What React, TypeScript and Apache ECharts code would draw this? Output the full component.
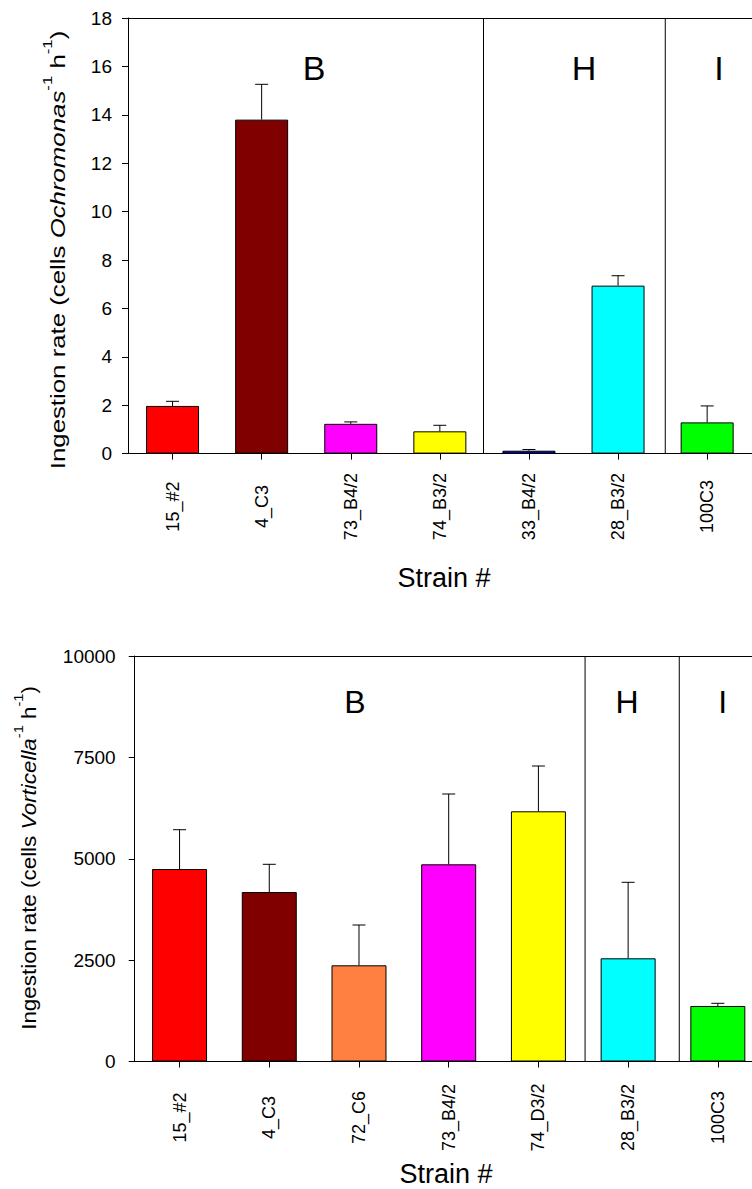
import React, { useEffect, useRef } from 'react';
import * as echarts from 'echarts';

// ---------- data ----------
const topCategories = ['15_#2', '4_C3', '73_B4/2', '74_B3/2', '33_B4/2', '28_B3/2', '100C3'];
const topValues = [1.97, 13.8, 1.23, 0.92, 0.12, 6.94, 1.29];
const topErrors = [0.19, 1.46, 0.08, 0.25, 0.05, 0.41, 0.68];
const topColors = ['#FF0000', '#800000', '#FF00FF', '#FFFF00', '#0000FF', '#00FFFF', '#00FF00'];
const topYMin = 0;
const topYMax = 18;
const topYInterval = 2;
const topSeparators = [3.99, 6.03]; // group boundaries, in category-band units
const topGroups = ['B', 'H', 'I'];

const bottomCategories = ['15_#2', '4_C3', '72_C6', '73_B4/2', '74_D3/2', '28_B3/2', '100C3'];
const bottomValues = [4747, 4180, 2372, 4863, 6170, 2545, 1369];
const bottomErrors = [969, 683, 994, 1734, 1117, 1874, 66];
const bottomColors = ['#FF0000', '#800000', '#FF8040', '#FF00FF', '#FFFF00', '#00FFFF', '#00FF00'];
const bottomYMin = 0;
const bottomYMax = 10000;
const bottomYInterval = 2500;
const bottomSeparators = [5.02, 6.07];
const bottomGroups = ['B', 'H', 'I'];

const xTitle = 'Strain #';

const FONT = '"Liberation Sans", Arial, Helvetica, sans-serif';

const errorRender = (capHalf: number) => (params: any, api: any) => {
  const x = api.value(0);
  const base = api.coord([x, api.value(1)]);
  const top = api.coord([x, api.value(2)]);
  return {
    type: 'group',
    children: [
      { type: 'line', shape: { x1: base[0], y1: base[1], x2: top[0], y2: top[1] }, style: { stroke: '#000', lineWidth: 1 } },
      { type: 'line', shape: { x1: top[0] - capHalf, y1: top[1], x2: top[0] + capHalf, y2: top[1] }, style: { stroke: '#000', lineWidth: 1 } },
    ],
  };
};

const sepRender = (params: any, api: any) => {
  const x = api.coord([api.value(0), 0])[0];
  const cs = params.coordSys;
  return {
    type: 'line',
    shape: { x1: x, y1: cs.y, x2: x, y2: cs.y + cs.height },
    style: { stroke: '#000', lineWidth: 1 },
  };
};

const catAxis = (gridIndex: number, cats: string[], shifts: Record<string, number>, margin: number) => ({
  type: 'category',
  gridIndex,
  data: cats.map((c) =>
    shifts[c]
      ? {
          value: c,
          textStyle: {
            align: 'center',
            verticalAlign: 'middle',
            fontSize: 18,
            color: '#000',
            fontFamily: FONT,
            padding: [shifts[c] * 2, 0, 0, 0],
          },
        }
      : c
  ),
  axisLine: { show: true, onZero: false, lineStyle: { color: '#000', width: 1 } },
  axisTick: { show: true, alignWithLabel: true, length: 6, lineStyle: { color: '#000' } },
  axisLabel: {
    rotate: 90,
    align: 'center',
    verticalAlign: 'middle',
    margin,
    fontSize: 18,
    color: '#000',
    fontFamily: FONT,
    interval: 0,
  },
  splitLine: { show: false },
});

const frameAxis = (gridIndex: number) => ({
  type: 'value',
  gridIndex,
  position: 'top',
  min: 0,
  max: 7,
  axisLine: { show: true, onZero: false, lineStyle: { color: '#000', width: 1 } },
  axisTick: { show: false },
  axisLabel: { show: false },
  splitLine: { show: false },
});

const valAxis = (gridIndex: number, min: number, max: number, interval: number, margin: number) => ({
  type: 'value',
  gridIndex,
  min,
  max,
  interval,
  axisLine: { show: true, onZero: false, lineStyle: { color: '#000', width: 1 } },
  axisTick: { show: true, length: 6, lineStyle: { color: '#000' } },
  axisLabel: { fontSize: 19, color: '#000', fontFamily: FONT, margin, formatter: (v: number) => String(v) },
  splitLine: { show: false },
});

const yTitle = (x: number, y: number, species: string, scaleX: number) => ({
  type: 'text',
  x,
  y,
  rotation: Math.PI / 2,
  scaleX,
  scaleY: 1,
  style: {
    text: `{a|Ingestion rate (cells }{b|${species}}{c|-1}{a| h}{c|-1}{a|)}`,
    align: 'center',
    verticalAlign: 'middle',
    fill: '#000',
    rich: {
      a: { fontSize: 20, fontFamily: FONT, lineHeight: 34, fill: '#000' },
      b: { fontSize: 20, fontFamily: FONT, fontStyle: 'italic', lineHeight: 34, fill: '#000' },
      c: { fontSize: 13, fontFamily: FONT, verticalAlign: 'top', lineHeight: 13, fill: '#000' },
    },
  },
});

const plainText = (x: number, y: number, text: string, fontSize: number) => ({
  type: 'text',
  x,
  y,
  style: { text, fontSize, fontFamily: FONT, fill: '#000', align: 'center', verticalAlign: 'middle' },
});

export default function App() {
  const ref = useRef<HTMLDivElement>(null);

  useEffect(() => {
    document.body.style.margin = '0';
    if (!ref.current) return;
    const chart = echarts.init(ref.current, null, { renderer: 'svg' });

    const option: any = {
      animation: false,
      backgroundColor: '#fff',
      grid: [
        { left: 128, top: 18, width: 623.7, height: 435.6, outerBoundsMode: 'none' },
        { left: 134.7, top: 656, width: 628, height: 405.5, outerBoundsMode: 'none' },
      ],
      xAxis: [
        catAxis(0, topCategories, { '74_B3/2': 16 }, 53),
        frameAxis(0),
        catAxis(1, bottomCategories, { '74_D3/2': 6 }, 56),
        frameAxis(1),
      ],
      yAxis: [
        valAxis(0, topYMin, topYMax, topYInterval, 16),
        valAxis(1, bottomYMin, bottomYMax, bottomYInterval, 19),
      ],
      series: [
        {
          type: 'bar',
          xAxisIndex: 0,
          yAxisIndex: 0,
          barWidth: 53,
          data: topValues.map((v, i) => ({ value: v, itemStyle: { color: topColors[i] } })),
          itemStyle: { borderColor: '#000', borderWidth: 1 },
        },
        {
          type: 'custom',
          xAxisIndex: 0,
          yAxisIndex: 0,
          data: topValues.map((v, i) => [i, v, v + topErrors[i]]),
          renderItem: errorRender(6.5),
          z: 5,
        },
        {
          type: 'custom',
          xAxisIndex: 1,
          yAxisIndex: 0,
          data: topSeparators.map((p) => [p, 0]),
          renderItem: sepRender,
          z: 4,
        },
        {
          type: 'bar',
          xAxisIndex: 2,
          yAxisIndex: 1,
          barWidth: 55,
          data: bottomValues.map((v, i) => ({ value: v, itemStyle: { color: bottomColors[i] } })),
          itemStyle: { borderColor: '#000', borderWidth: 1 },
        },
        {
          type: 'custom',
          xAxisIndex: 2,
          yAxisIndex: 1,
          data: bottomValues.map((v, i) => [i, v, v + bottomErrors[i]]),
          renderItem: errorRender(6.5),
          z: 5,
        },
        {
          type: 'custom',
          xAxisIndex: 3,
          yAxisIndex: 1,
          data: bottomSeparators.map((p) => [p, 0]),
          renderItem: sepRender,
          z: 4,
        },
      ],
      graphic: [
        plainText(314, 68, topGroups[0], 34),
        plainText(584, 68, topGroups[1], 34),
        plainText(719, 68, topGroups[2], 34),
        plainText(355, 702, bottomGroups[0], 32),
        plainText(627, 702, bottomGroups[1], 32),
        plainText(722.7, 702, bottomGroups[2], 32),
        plainText(444, 578, xTitle, 27),
        plainText(446, 1174, xTitle, 27),
        yTitle(58, 250, 'Ochromonas', 1.29),
        yTitle(29, 858, 'Vorticella', 1.12),
      ],
    };

    chart.setOption(option);
    return () => chart.dispose();
  }, []);

  return <div ref={ref} style={{ width: 752, height: 1189 }} />;
}
